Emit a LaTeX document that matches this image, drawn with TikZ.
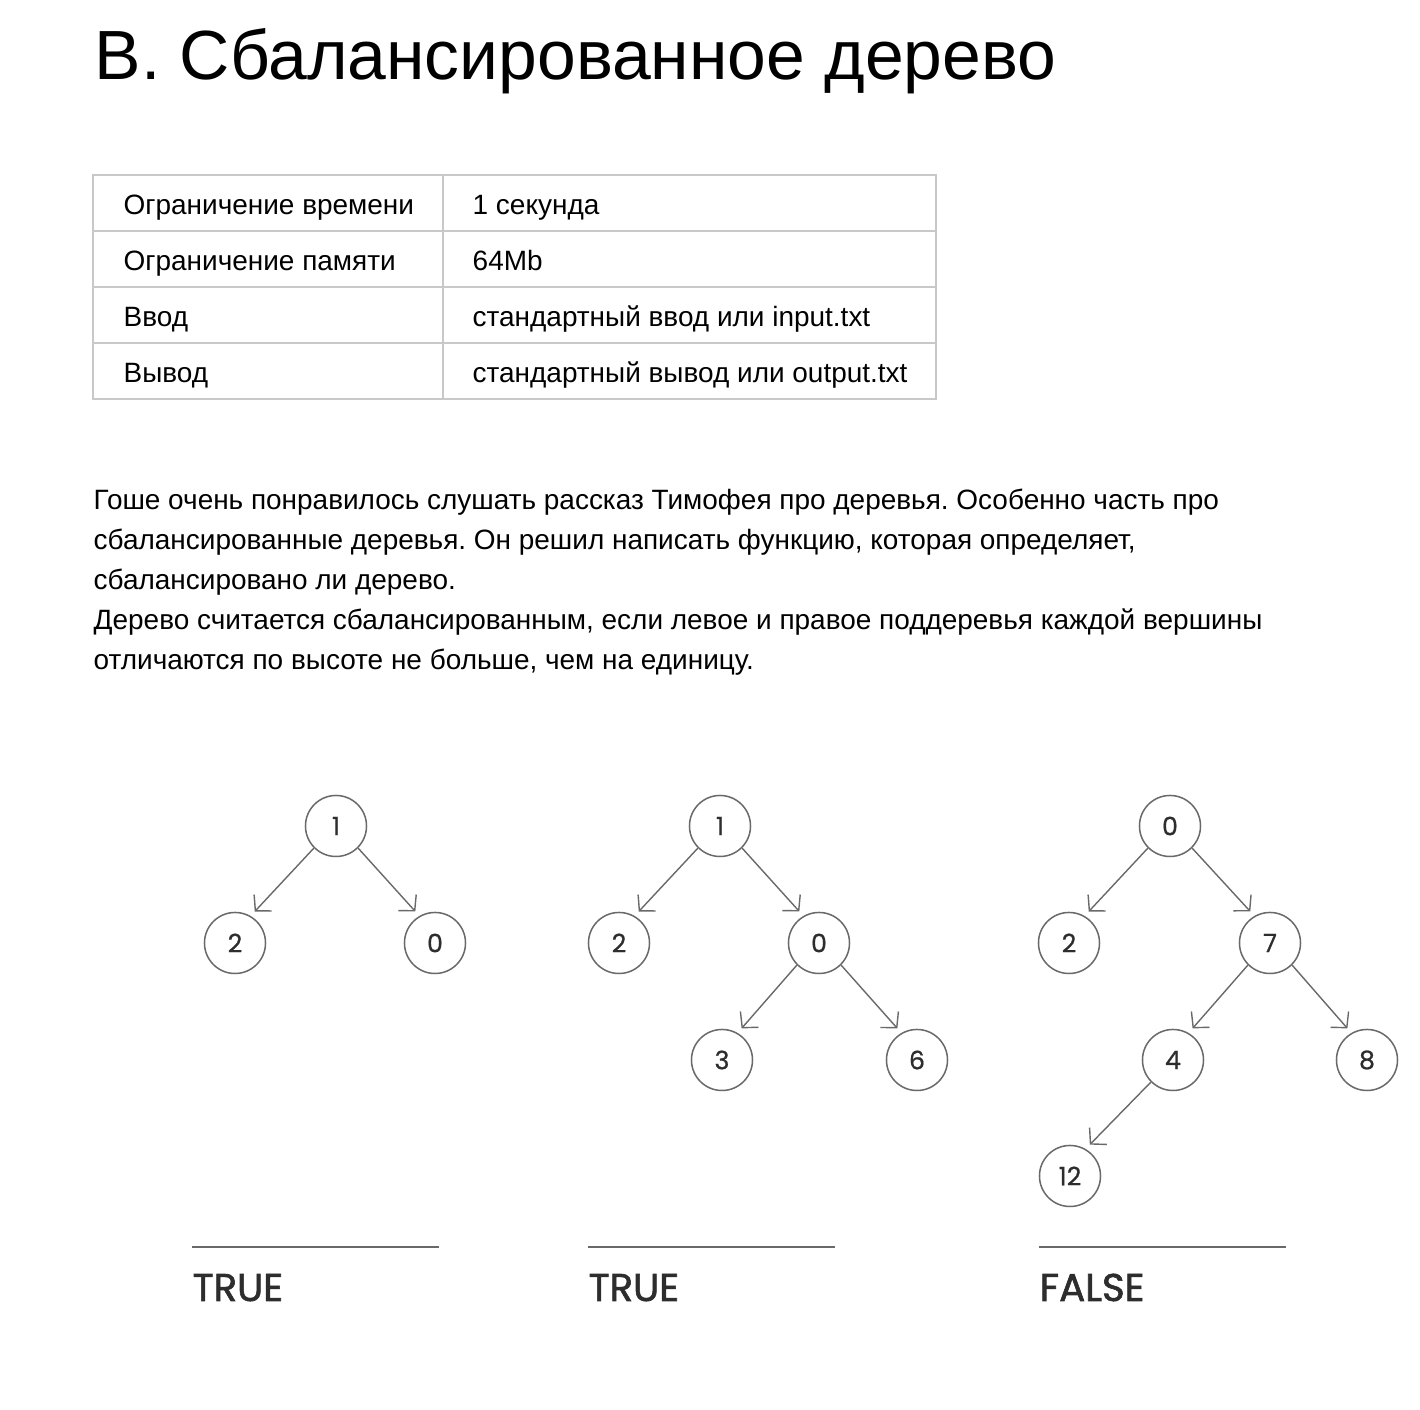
\documentclass[tikz,border=0pt]{standalone}
\usepackage{fontspec}
\setmainfont{Liberation Sans}
\newfontfamily\treefont{Poppins}[FakeBold=0.6]
\newfontfamily\verdictfont{Poppins}[FakeBold=1.6]
\usetikzlibrary{arrows.meta}
\definecolor{tablegray}{RGB}{200,200,200}
\definecolor{edgegray}{RGB}{105,105,105}
\definecolor{labelgray}{RGB}{45,45,45}

\tikzset{
  vertex/.style={circle, draw=edgegray, line width=0.015cm, minimum size=0.61cm, inner sep=0pt,
    font=\treefont\fontsize{7.2}{8}\selectfont, text=labelgray},
  edge/.style={-{Straight Barb[length=1.1mm,width=2.4mm]}, draw=edgegray, line width=0.014cm, shorten >=0.06cm},
  txt/.style={anchor=base west, inner sep=0pt, font=\fontsize{7.95}{9}\selectfont},
  verdict/.style={anchor=base west, inner sep=0pt, text=labelgray, font=\verdictfont\fontsize{11}{12}\selectfont},
}

\begin{document}
\frenchspacing
\begin{tikzpicture}[x=0.01cm, y=-0.01cm]
    \useasboundingbox (0,0) rectangle (1420,1410);

    % Title
    \node[anchor=base west, inner sep=0pt, font=\fontsize{19.8}{24}\selectfont] (title) at (94,80) {B. Сбалансированное дерево};

    % Limits table
    \draw[tablegray, line width=0.02cm] (93,175) rectangle (936,399);
    \foreach \y in {231,287,343} {
        \draw[tablegray, line width=0.02cm] (93,\y) -- (936,\y);
    }
    \draw[tablegray, line width=0.02cm] (443,175) -- (443,399);
    \node[txt] (timekey) at (123,215) {Ограничение времени};
    \node[txt] (timeval) at (472,215) {1 секунда};
    \node[txt] (memkey) at (123,271) {Ограничение памяти};
    \node[txt] (memval) at (472,271) {64Mb};
    \node[txt] (inkey) at (123,327) {Ввод};
    \node[txt] (inval) at (472,327) {стандартный ввод или input.txt};
    \node[txt] (outkey) at (123,383) {Вывод};
    \node[txt] (outval) at (472,383) {стандартный вывод или output.txt};

    % Statement
    \node[txt] (line1) at (93,510) {Гоше очень понравилось слушать рассказ Тимофея про деревья. Особенно часть про};
    \node[txt] (line2) at (93,550) {сбалансированные деревья. Он решил написать функцию, которая определяет,};
    \node[txt] (line3) at (93,590) {сбалансировано ли дерево.};
    \node[txt] (line4) at (93,630) {Дерево считается сбалансированным, если левое и правое поддеревья каждой вершины};
    \node[txt] (line5) at (93,670) {отличаются по высоте не больше, чем на единицу.};

    % Tree 1
    \node[vertex] (a1) at (336,826) {1};
    \node[vertex] (a2) at (235,943) {2};
    \node[vertex] (a0) at (435,943) {0};
    \draw[edge] (a1.-135) -- (a2.60);
    \draw[edge] (a1.-45) -- (a0.120);

    % Tree 2
    \node[vertex] (b1) at (720,826) {1};
    \node[vertex] (b2) at (619,943) {2};
    \node[vertex] (b0) at (819,943) {0};
    \node[vertex] (b3) at (722,1060) {3};
    \node[vertex] (b6) at (917,1060) {6};
    \draw[edge] (b1.-135) -- (b2.60);
    \draw[edge] (b1.-45) -- (b0.120);
    \draw[edge] (b0.-135) -- (b3.60);
    \draw[edge] (b0.-45) -- (b6.120);

    % Tree 3
    \node[vertex] (c0) at (1170,826) {0};
    \node[vertex] (c2) at (1069,943) {2};
    \node[vertex] (c7) at (1270,943) {7};
    \node[vertex] (c4) at (1173,1060) {4};
    \node[vertex] (c8) at (1367,1060) {8};
    \node[vertex] (c12) at (1070,1176) {12};
    \draw[edge] (c0.-135) -- (c2.60);
    \draw[edge] (c0.-45) -- (c7.120);
    \draw[edge] (c7.-135) -- (c4.60);
    \draw[edge] (c7.-45) -- (c8.120);
    \draw[edge] (c4.-135) -- (c12.60);

    % Answers
    \foreach \x/\name/\answer in {192/ans1/TRUE, 588/ans2/TRUE, 1039/ans3/FALSE} {
        \draw[edgegray, line width=0.02cm] (\x,1247) -- ++(247,0);
        \node[verdict] (\name) at (\x,1301) {\answer};
    }
\end{tikzpicture}
\end{document}
